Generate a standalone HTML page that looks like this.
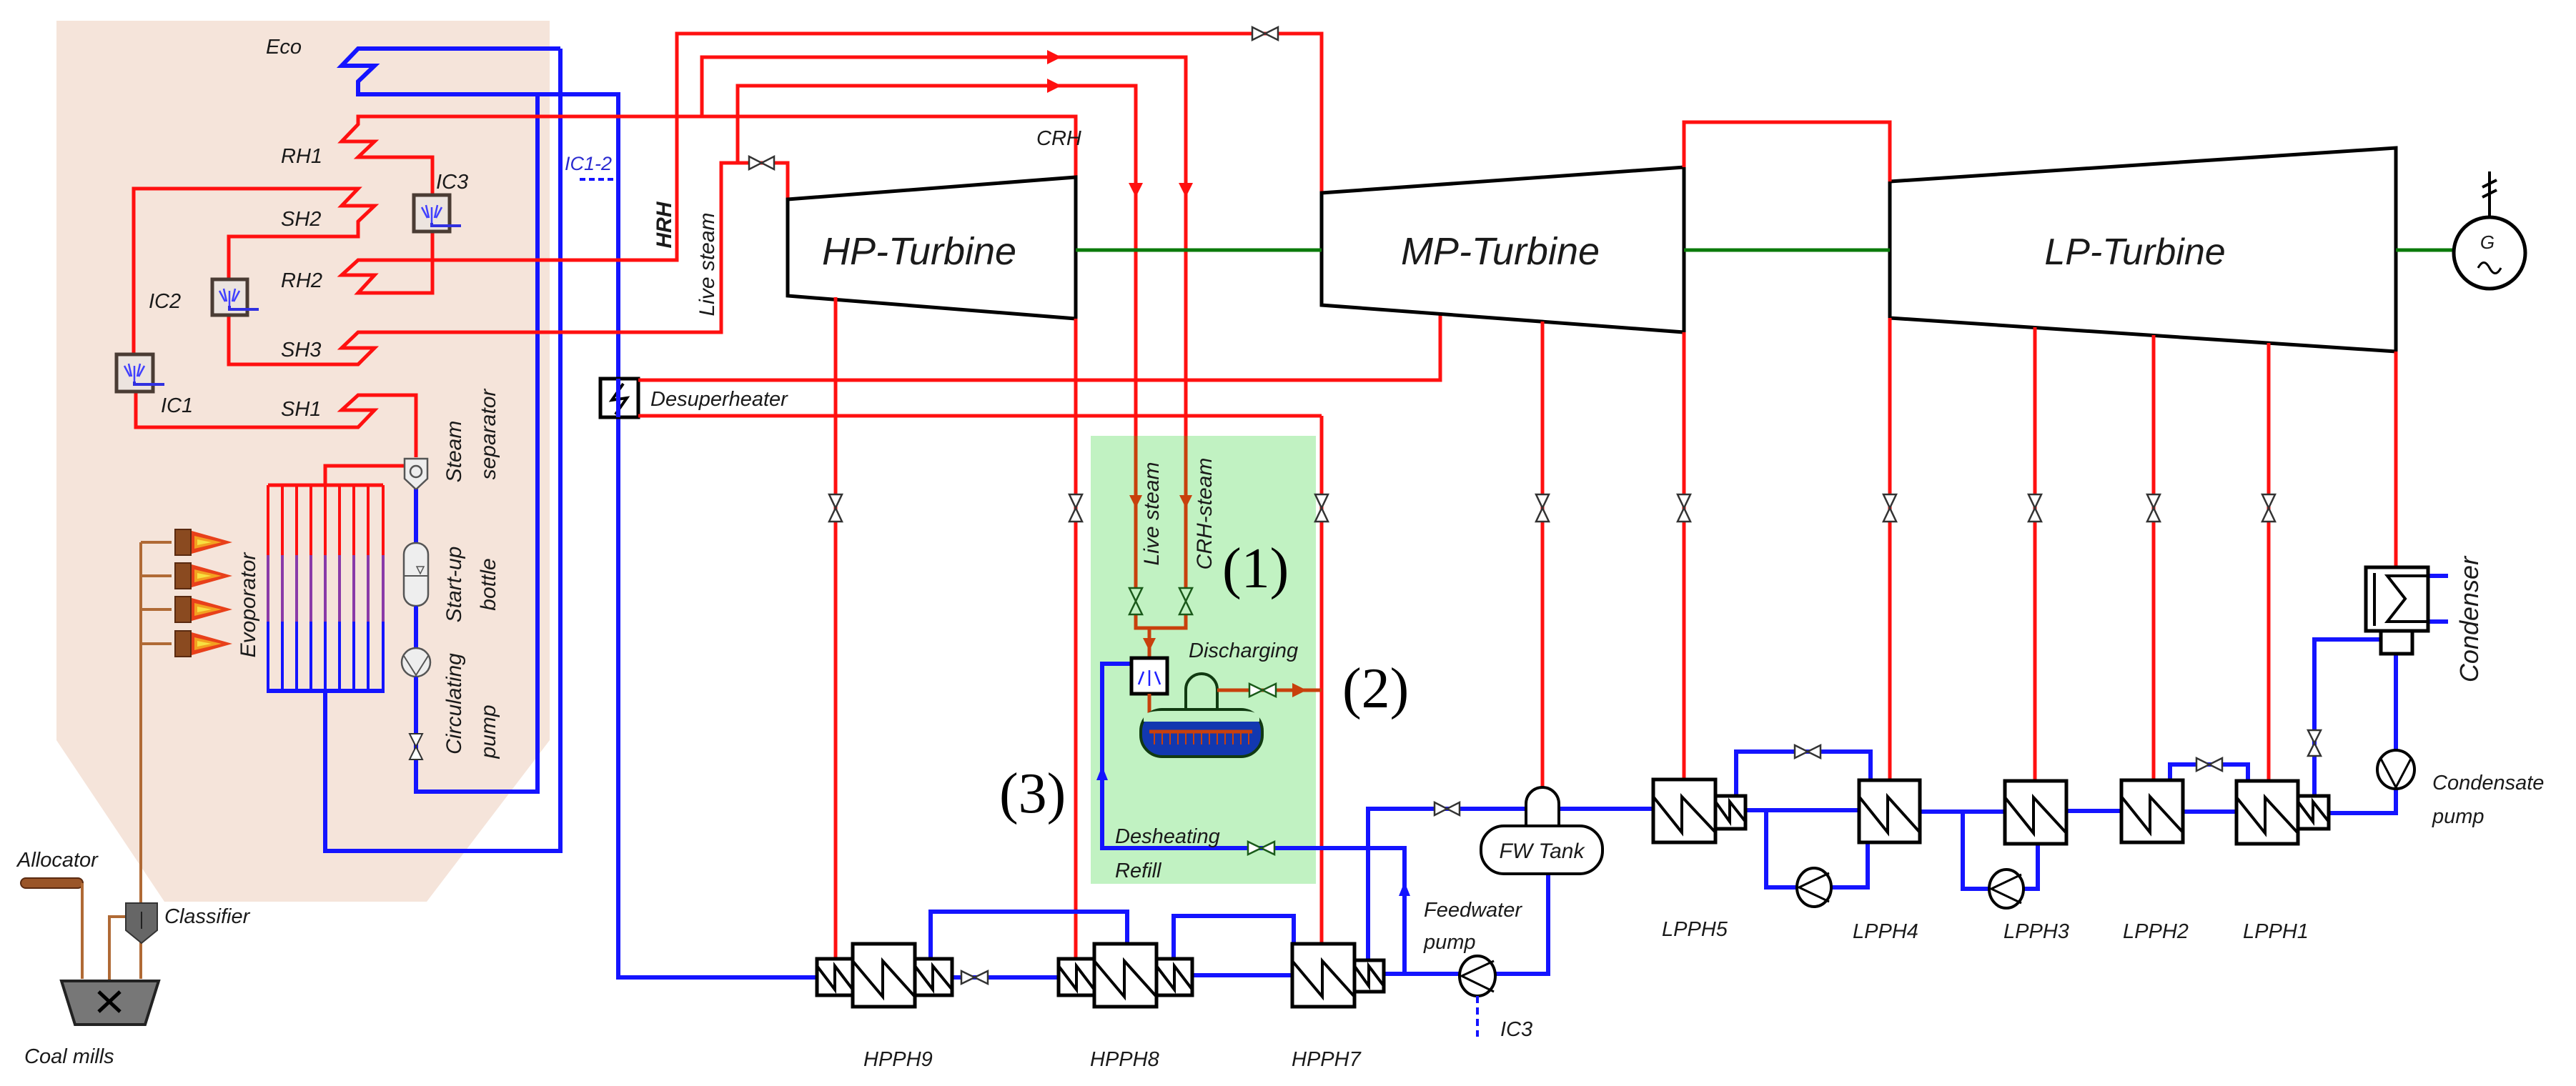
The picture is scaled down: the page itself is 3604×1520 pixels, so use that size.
<!DOCTYPE html>
<html><head><meta charset="utf-8"><style>
html,body{margin:0;padding:0;background:#fff;}
svg{display:block;}
text{font-family:"Liberation Sans",sans-serif;font-style:italic;fill:#1a1a1a;}
.r{stroke:#ff1010;stroke-width:5;fill:none;}
.b{stroke:#1414ff;stroke-width:6;fill:none;}
.k{stroke:#000;stroke-width:5;fill:#fff;}
.o{stroke:#c8400c;stroke-width:5;fill:none;}
.br{stroke:#b06a35;stroke-width:4;fill:none;}
.s{font-size:29px;}
.p{font-family:"Liberation Serif",serif;font-style:normal;font-size:80px;fill:#000;}
</style></head><body>
<svg width="3604" height="1520" viewBox="0 0 3604 1520" xmlns="http://www.w3.org/2000/svg">
<defs>
<marker id="ar" viewBox="0 0 10 10" refX="5" refY="5" markerWidth="4" markerHeight="4" orient="auto"><path d="M0,0L10,5L0,10z" fill="#ff1010"/></marker>
</defs>
<!-- boiler background -->
<polygon points="79,29 769,29 769,1036 597,1262 230,1262 79,1036" fill="#f5e4da"/>
<!-- green storage box -->
<rect x="1526" y="610" width="315" height="627" fill="#c1f2c2"/>

<!-- BLUE boiler lines -->
<polyline class="b" points="784,68 501,68 478,92 524,92 501,114 501,132 865,132 865,1368 1143,1368"/>
<polyline class="b" points="784,68 784,1191 455,1191 455,967"/>
<polyline class="b" points="752,132 752,1108 582,1108 582,683"/>
<line x1="811" y1="251" x2="865" y2="251" stroke="#1414ff" stroke-width="4" stroke-dasharray="8,5"/>

<!-- RED boiler lines -->
<polyline class="r" points="1505,248 1505,163 501,163 501,174 478,198 524,198 501,220 605,220 605,273"/>
<polyline class="r" points="605,324 605,410 501,410 524,385 478,385 501,364 947,364 947,47 1849,47 1849,270"/>
<polyline class="r" points="982,163 982,80 1659,80 1659,823"/>
<polyline class="r" points="1032,228 1032,120 1589,120 1589,823"/>
<polyline class="r" points="187,496 187,264 501,264 478,288 524,288 501,310 501,331 320,331 320,391"/>
<polyline class="r" points="320,441 320,510 501,510 524,487 478,487 501,465 1009,465 1009,228 1102,228 1102,279"/>
<polyline class="r" points="190,548 190,598 501,598 524,574 478,574 501,553 582,553 582,640"/>
<polyline class="r" points="582,652 455,652 455,679"/>
<!-- arrows on top lines -->
<path d="M1465,70 L1485,80 L1465,90z" fill="#ff1010"/>
<path d="M1465,110 L1485,120 L1465,130z" fill="#ff1010"/>
<path d="M1579,256 L1589,276 L1599,256z" fill="#ff1010"/>
<path d="M1649,256 L1659,276 L1669,256z" fill="#ff1010"/>
<!-- top valves -->
<g stroke="#333" stroke-width="2.5" fill="#fff">
<path d="M1752,38 L1788,56 L1788,38 L1752,56z"/>
<path d="M1048,219 L1083,237 L1083,219 L1048,237z"/>
</g>

<!-- evaporator tubes -->
<line x1="375" y1="679" x2="536" y2="679" class="r"/>
<g stroke-width="4">
<g stroke="#ff1010"><line x1="375" y1="679" x2="375" y2="777"/><line x1="395" y1="679" x2="395" y2="777"/><line x1="415" y1="679" x2="415" y2="777"/><line x1="435" y1="679" x2="435" y2="777"/><line x1="455" y1="679" x2="455" y2="777"/><line x1="475" y1="679" x2="475" y2="777"/><line x1="495" y1="679" x2="495" y2="777"/><line x1="515" y1="679" x2="515" y2="777"/><line x1="536" y1="679" x2="536" y2="777"/></g>
<g stroke="#8a3aa8"><line x1="375" y1="777" x2="375" y2="870"/><line x1="395" y1="777" x2="395" y2="870"/><line x1="415" y1="777" x2="415" y2="870"/><line x1="435" y1="777" x2="435" y2="870"/><line x1="455" y1="777" x2="455" y2="870"/><line x1="475" y1="777" x2="475" y2="870"/><line x1="495" y1="777" x2="495" y2="870"/><line x1="515" y1="777" x2="515" y2="870"/><line x1="536" y1="777" x2="536" y2="870"/></g>
<g stroke="#1414ff"><line x1="375" y1="870" x2="375" y2="967"/><line x1="395" y1="870" x2="395" y2="967"/><line x1="415" y1="870" x2="415" y2="967"/><line x1="435" y1="870" x2="435" y2="967"/><line x1="455" y1="870" x2="455" y2="967"/><line x1="475" y1="870" x2="475" y2="967"/><line x1="495" y1="870" x2="495" y2="967"/><line x1="515" y1="870" x2="515" y2="967"/><line x1="536" y1="870" x2="536" y2="967"/></g>
</g>
<line x1="373" y1="967" x2="538" y2="967" class="b"/>

<!-- IC boxes -->
<g>
<rect x="579" y="273" width="50" height="51" fill="#ece4df" stroke="#4a3c34" stroke-width="5"/>
<path d="M604,290 L604,312 M596,287 L600,305 M612,287 L608,305 M590,290 L598,305 M618,290 L610,305" stroke="#4040ff" stroke-width="2.5"/>
<polyline points="604,312 604,316 645,316" stroke="#3030e0" stroke-width="4" fill="none"/>
<rect x="297" y="391" width="49" height="50" fill="#ece4df" stroke="#4a3c34" stroke-width="5"/>
<path d="M321,407 L321,428 M313,404 L317,422 M329,404 L325,422 M307,407 L315,422 M335,407 L327,422" stroke="#4040ff" stroke-width="2.5"/>
<polyline points="321,428 321,433 362,433" stroke="#3030e0" stroke-width="4" fill="none"/>
<rect x="163" y="496" width="51" height="52" fill="#ece4df" stroke="#4a3c34" stroke-width="5"/>
<path d="M188,512 L188,534 M180,509 L184,527 M196,509 L192,527 M174,512 L182,527 M202,512 L194,527" stroke="#4040ff" stroke-width="2.5"/>
<polyline points="188,534 188,538 230,538" stroke="#3030e0" stroke-width="4" fill="none"/>
</g>

<!-- steam separator / bottle / circ pump -->
<path d="M566,642 L598,642 L598,670 L582,685 L566,670z" fill="#eee" stroke="#555" stroke-width="2.5"/>
<circle cx="582" cy="660" r="8" fill="none" stroke="#555" stroke-width="2.5"/>
<line x1="582" y1="685" x2="582" y2="760" class="b" style="stroke-width:3"/>
<rect x="565" y="760" width="34" height="88" rx="16" fill="#eee" stroke="#555" stroke-width="2.5"/>
<line x1="565" y1="806" x2="599" y2="806" stroke="#555" stroke-width="2"/>
<path d="M583,793 L593,793 L588,803z" fill="none" stroke="#555" stroke-width="1.5"/>
<line x1="582" y1="848" x2="582" y2="907" class="b" style="stroke-width:3"/>
<ellipse cx="582" cy="927" rx="20" ry="20" fill="#eee" stroke="#555" stroke-width="2.5"/>
<path d="M565,918 L582,945 L599,918" fill="none" stroke="#555" stroke-width="2"/>
<line x1="582" y1="947" x2="582" y2="1108" class="b" style="stroke-width:3"/>
<path d="M573,1027 L591,1027 L573,1063 L591,1063z" fill="#fff" stroke="#333" stroke-width="2"/>

<!-- coal / burners -->
<polyline class="br" points="197,1264 197,759"/>
<g class="br"><line x1="197" y1="759" x2="240" y2="759"/><line x1="197" y1="806" x2="240" y2="806"/><line x1="197" y1="853" x2="240" y2="853"/><line x1="197" y1="901" x2="240" y2="901"/></g>
<g id="burn">
</g>
<g>
<g transform="translate(0,759)"><rect x="245" y="-18" width="22" height="36" fill="#8a4a20" stroke="#5a2a10" stroke-width="2"/><path d="M268,-16 L325,0 L268,16z" fill="#e8401a"/><path d="M272,-9 L310,0 L272,9z" fill="#f3a020"/><path d="M276,-4 L296,0 L276,4z" fill="#f8e040"/></g>
<g transform="translate(0,806)"><rect x="245" y="-18" width="22" height="36" fill="#8a4a20" stroke="#5a2a10" stroke-width="2"/><path d="M268,-16 L325,0 L268,16z" fill="#e8401a"/><path d="M272,-9 L310,0 L272,9z" fill="#f3a020"/><path d="M276,-4 L296,0 L276,4z" fill="#f8e040"/></g>
<g transform="translate(0,853)"><rect x="245" y="-18" width="22" height="36" fill="#8a4a20" stroke="#5a2a10" stroke-width="2"/><path d="M268,-16 L325,0 L268,16z" fill="#e8401a"/><path d="M272,-9 L310,0 L272,9z" fill="#f3a020"/><path d="M276,-4 L296,0 L276,4z" fill="#f8e040"/></g>
<g transform="translate(0,901)"><rect x="245" y="-18" width="22" height="36" fill="#8a4a20" stroke="#5a2a10" stroke-width="2"/><path d="M268,-16 L325,0 L268,16z" fill="#e8401a"/><path d="M272,-9 L310,0 L272,9z" fill="#f3a020"/><path d="M276,-4 L296,0 L276,4z" fill="#f8e040"/></g>
</g>
<rect x="29" y="1229" width="87" height="14" rx="7" fill="#9a5528" stroke="#5a2a10" stroke-width="2"/>
<polyline class="br" points="115,1236 115,1370"/>
<polyline class="br" points="153,1373 153,1283 176,1283"/>
<line class="br" x1="197" y1="1317" x2="197" y2="1370"/>
<path d="M176,1264 L220,1264 L220,1302 L198,1320 L176,1302z" fill="#666" stroke="#333" stroke-width="2"/>
<line x1="198" y1="1276" x2="198" y2="1300" stroke="#222" stroke-width="2"/>
<path d="M86,1373 L222,1373 L203,1434 L105,1434z" fill="#777" stroke="#222" stroke-width="4"/>
<path d="M138,1388 L168,1416 M168,1388 L138,1416" stroke="#000" stroke-width="5"/>

<!-- desuperheater -->
<rect x="840" y="530" width="53" height="54" fill="#fff" stroke="#000" stroke-width="5"/>
<path d="M872,537 L856,560 L877,557 L861,580" fill="none" stroke="#000" stroke-width="4"/>
<line x1="865" y1="530" x2="865" y2="584" class="b"/>
<polyline class="r" points="893,532 2015,532 2015,439"/>
<polyline class="r" points="893,582 1849,582"/>

<!-- turbines -->
<polygon class="k" points="1102,279 1505,248 1505,446 1102,414"/>
<polygon class="k" points="1849,270 2356,234 2356,465 1849,427"/>
<polygon class="k" points="2644,254 3352,207 3352,492 2644,445"/>
<g stroke="#0a7a0a" stroke-width="5"><line x1="1505" y1="350" x2="1849" y2="350"/><line x1="2356" y1="350" x2="2644" y2="350"/><line x1="3352" y1="350" x2="3433" y2="350"/></g>
<text x="1286" y="370" font-size="54" text-anchor="middle">HP-Turbine</text>
<text x="2099" y="370" font-size="54" text-anchor="middle">MP-Turbine</text>
<text x="2987" y="370" font-size="52" text-anchor="middle">LP-Turbine</text>
<circle cx="3483" cy="354" r="50" fill="#fff" stroke="#000" stroke-width="5"/>
<text x="3480" y="348" font-size="26" text-anchor="middle">G</text>
<path d="M3467,375 Q3475,360 3483,375 T3499,375" fill="none" stroke="#000" stroke-width="3"/>
<line x1="3483" y1="304" x2="3483" y2="240" stroke="#000" stroke-width="4"/>
<path d="M3473,262 L3493,252 M3473,276 L3493,266" stroke="#000" stroke-width="4"/>

<!-- red extraction lines -->
<polyline class="r" points="2356,234 2356,171 2644,171 2644,254"/>
<line class="r" x1="1169" y1="416" x2="1169" y2="1342"/>
<line class="r" x1="1505" y1="446" x2="1505" y2="1342"/>
<line class="r" x1="1849" y1="582" x2="1849" y2="1321"/>
<line class="r" x1="2158" y1="450" x2="2158" y2="1103"/>
<line class="r" x1="2356" y1="465" x2="2356" y2="1091"/>
<line class="r" x1="2644" y1="445" x2="2644" y2="1092"/>
<line class="r" x1="2847" y1="458" x2="2847" y2="1093"/>
<line class="r" x1="3013" y1="469" x2="3013" y2="1092"/>
<line class="r" x1="3174" y1="480" x2="3174" y2="1093"/>
<line class="r" x1="3352" y1="492" x2="3352" y2="794"/>
<g stroke="#333" stroke-width="2.5" fill="#fff">
<path d="M1160,692 L1178,692 L1160,730 L1178,730z"/>
<path d="M1496,692 L1514,692 L1496,730 L1514,730z"/>
<path d="M1840,692 L1858,692 L1840,730 L1858,730z"/>
<path d="M2149,692 L2167,692 L2149,730 L2167,730z"/>
<path d="M2347,692 L2365,692 L2347,730 L2365,730z"/>
<path d="M2635,692 L2653,692 L2635,730 L2653,730z"/>
<path d="M2838,692 L2856,692 L2838,730 L2856,730z"/>
<path d="M3004,692 L3022,692 L3004,730 L3022,730z"/>
<path d="M3165,692 L3183,692 L3165,730 L3183,730z"/>
</g>

<!-- storage system -->
<g class="o">
<line x1="1589" y1="610" x2="1589" y2="823"/><line x1="1659" y1="610" x2="1659" y2="823"/>
<polyline points="1589,860 1589,879 1659,879 1659,860"/>
<line x1="1608" y1="879" x2="1608" y2="921"/>
</g>
<path d="M1580,693 L1589,711 L1598,693z" fill="#c8400c"/>
<path d="M1650,693 L1659,711 L1668,693z" fill="#c8400c"/>
<path d="M1599,893 L1608,911 L1617,893z" fill="#c8400c"/>
<g stroke="#1a5a1a" stroke-width="2.5" fill="none">
<path d="M1580,823 L1598,823 L1580,860 L1598,860z"/>
<path d="M1650,823 L1668,823 L1650,860 L1668,860z"/>
</g>
<polyline class="b" points="1606,929 1542,929 1542,1187 1965,1187 1965,1363"/>
<path d="M1534,1092 L1542,1072 L1550,1092z" fill="#1414ff"/>
<path d="M1957,1254 L1965,1234 L1973,1254z" fill="#1414ff"/>
<path d="M1746,1178 L1783,1196 L1783,1178 L1746,1196z" fill="#fff" stroke="#1a5a1a" stroke-width="2.5"/>
<rect x="1583" y="921" width="50" height="50" fill="#fff" stroke="#000" stroke-width="5"/>
<path d="M1608,938 L1608,960 M1600,940 L1593,958 M1616,940 L1623,958" stroke="#2020ff" stroke-width="2.5"/>
<line x1="1608" y1="971" x2="1608" y2="1024" class="o"/>
<path d="M1659,993 L1659,965 A22,22 0 0 1 1703,965 L1703,993" fill="#c1f2c2" stroke="#113a11" stroke-width="4"/>
<rect x="1596" y="993" width="170" height="66" rx="30" fill="#1238b0" stroke="#113a11" stroke-width="4"/>
<path d="M1600,1010 L1600,1005 Q1600,995 1626,995 L1736,995 Q1762,995 1762,1005 L1762,1010z" fill="#c1f2c2"/>
<line x1="1608" y1="1024" x2="1752" y2="1024" class="o"/>
<path d="M1615,1024 v18 M1626,1024 v18 M1637,1024 v18 M1648,1024 v18 M1659,1024 v18 M1670,1024 v18 M1681,1024 v18 M1692,1024 v18 M1703,1024 v18 M1714,1024 v18 M1725,1024 v18 M1736,1024 v18 M1747,1024 v18" stroke="#c8400c" stroke-width="2"/>
<line class="o" x1="1703" y1="966" x2="1849" y2="966"/>
<path d="M1748,957 L1785,975 L1785,957 L1748,975z" fill="#fff" stroke="#1a5a1a" stroke-width="2.5"/>
<path d="M1808,956 L1828,966 L1808,976z" fill="#c8400c"/>

<!-- feedwater / HP heaters -->
<polyline class="b" points="1332,1368 1481,1368"/>
<polyline class="b" points="1668,1365 1808,1365"/>
<polyline class="b" points="1936,1363 2042,1363"/>
<polyline class="b" points="2092,1363 2166,1363 2166,1223"/>
<polyline class="b" points="1302,1344 1302,1276 1577,1276 1577,1321"/>
<polyline class="b" points="1642,1342 1642,1282 1810,1282 1810,1321"/>
<polyline class="b" points="1914,1344 1914,1132 2135,1132"/>
<polyline class="b" points="2181,1132 2313,1132"/>
<path d="M1345,1359 L1382,1377 L1382,1359 L1345,1377z" fill="#fff" stroke="#333" stroke-width="2.5"/>
<path d="M2007,1123 L2042,1141 L2042,1123 L2007,1141z" fill="#fff" stroke="#333" stroke-width="2.5"/>
<g fill="#fff" stroke="#000" stroke-width="5">
<!-- HPPH9 -->
<rect x="1143" y="1342" width="50" height="51"/><rect x="1193" y="1321" width="87" height="88"/><rect x="1280" y="1342" width="52" height="51"/>
<!-- HPPH8 -->
<rect x="1481" y="1342" width="50" height="51"/><rect x="1531" y="1321" width="87" height="88"/><rect x="1618" y="1342" width="50" height="51"/>
<!-- HPPH7 -->
<rect x="1808" y="1321" width="87" height="88"/><rect x="1895" y="1344" width="41" height="44"/>
</g>
<g fill="none" stroke="#000" stroke-width="4">
<polyline points="1143,1352 1168,1385 1168,1352 1193,1385"/>
<polyline points="1193,1345 1235,1395 1235,1345 1280,1395"/>
<polyline points="1280,1352 1305,1385 1305,1352 1332,1385"/>
<polyline points="1481,1352 1506,1385 1506,1352 1531,1385"/>
<polyline points="1531,1345 1573,1395 1573,1345 1618,1395"/>
<polyline points="1618,1352 1643,1385 1643,1352 1668,1385"/>
<polyline points="1808,1345 1850,1395 1850,1345 1895,1395"/>
<polyline points="1895,1352 1915,1380 1915,1352 1936,1380"/>
</g>
<!-- FW tank -->
<path d="M2135,1156 L2135,1125 A23,23 0 0 1 2181,1125 L2181,1156" fill="#fff" stroke="#000" stroke-width="4"/>
<rect x="2072" y="1156" width="170" height="67" rx="32" fill="#fff" stroke="#000" stroke-width="4"/>
<text x="2157" y="1201" font-size="30" text-anchor="middle">FW Tank</text>
<ellipse cx="2067" cy="1366" rx="25" ry="28" fill="#fff" stroke="#000" stroke-width="4"/>
<path d="M2090,1345 L2045,1366 L2090,1388" fill="none" stroke="#000" stroke-width="3"/>
<line x1="2067" y1="1394" x2="2067" y2="1451" stroke="#1414ff" stroke-width="4" stroke-dasharray="10,6"/>

<!-- LP heaters -->
<polyline class="b" points="2442,1134 2601,1134"/>
<polyline class="b" points="2686,1136 2805,1136"/>
<polyline class="b" points="2891,1135 2968,1135"/>
<polyline class="b" points="3054,1136 3129,1136"/>
<polyline class="b" points="3258,1138 3352,1138 3352,1104"/>
<polyline class="b" points="3352,1050 3352,915"/>
<polyline class="b" points="3331,895 3238,895 3238,1114"/>
<polyline class="b" points="2429,1114 2429,1052 2617,1052 2617,1092"/>
<polyline class="b" points="3036,1092 3036,1070 3145,1070 3145,1093"/>
<polyline class="b" points="2471,1134 2471,1242 2513,1242"/>
<polyline class="b" points="2563,1242 2613,1242 2613,1179"/>
<polyline class="b" points="2746,1136 2746,1244 2782,1244"/>
<polyline class="b" points="2832,1244 2851,1244 2851,1181"/>
<polyline class="b" points="3397,806 3425,806"/>
<polyline class="b" points="3397,870 3425,870"/>
<g fill="#fff" stroke="#333" stroke-width="2.5">
<path d="M2511,1043 L2547,1061 L2547,1043 L2511,1061z"/>
<path d="M3073,1061 L3109,1079 L3109,1061 L3073,1079z"/>
<path d="M3229,1022 L3247,1022 L3229,1058 L3247,1058z"/>
</g>
<g fill="#fff" stroke="#000" stroke-width="5">
<rect x="2313" y="1091" width="87" height="88"/><rect x="2400" y="1114" width="42" height="46"/>
<rect x="2601" y="1092" width="85" height="87"/>
<rect x="2805" y="1093" width="86" height="88"/>
<rect x="2968" y="1092" width="86" height="87"/>
<rect x="3129" y="1093" width="86" height="88"/><rect x="3215" y="1114" width="43" height="46"/>
<rect x="3310" y="794" width="87" height="89"/><rect x="3331" y="883" width="44" height="32"/>
</g>
<g fill="none" stroke="#000" stroke-width="4">
<polyline points="2313,1115 2353,1165 2353,1115 2400,1165"/>
<polyline points="2400,1122 2420,1150 2420,1122 2442,1150"/>
<polyline points="2601,1115 2641,1165 2641,1115 2686,1165"/>
<polyline points="2805,1116 2845,1166 2845,1116 2891,1166"/>
<polyline points="2968,1115 3008,1165 3008,1115 3054,1165"/>
<polyline points="3129,1116 3169,1166 3169,1116 3215,1166"/>
<polyline points="3215,1122 3236,1150 3236,1122 3258,1150"/>
<polyline points="3397,806 3340,806 3365,838 3340,870 3397,870"/>
<line x1="3322" y1="802" x2="3322" y2="876"/>
</g>
<g fill="#fff" stroke="#000" stroke-width="4">
<ellipse cx="2538" cy="1242" rx="24" ry="27"/>
<ellipse cx="2807" cy="1244" rx="24" ry="27"/>
<ellipse cx="3352" cy="1077" rx="26" ry="27"/>
</g>
<g fill="none" stroke="#000" stroke-width="3">
<path d="M2559,1222 L2517,1242 L2559,1262"/>
<path d="M2828,1224 L2786,1244 L2828,1264"/>
<path d="M3330,1060 L3352,1102 L3374,1060"/>
</g>

<!-- labels -->
<g class="s">
<text x="372" y="75">Eco</text>
<text x="393" y="228">RH1</text>
<text x="610" y="264">IC3</text>
<text x="393" y="316">SH2</text>
<text x="393" y="402">RH2</text>
<text x="208" y="431">IC2</text>
<text x="393" y="499">SH3</text>
<text x="225" y="577">IC1</text>
<text x="393" y="582">SH1</text>
<text x="24" y="1213">Allocator</text>
<text x="230" y="1292">Classifier</text>
<text x="34" y="1488">Coal mills</text>
<text x="1450" y="203">CRH</text>
<text x="790" y="238" style="fill:#2a2ad0;font-size:27px">IC1-2</text>
<text x="910" y="568">Desuperheater</text>
<text x="1663" y="920">Discharging</text>
<text x="1560" y="1180">Desheating</text>
<text x="1560" y="1228">Refill</text>
<text x="1992" y="1283">Feedwater</text>
<text x="1992" y="1328">pump</text>
<text x="2099" y="1450">IC3</text>
<text x="1208" y="1492">HPPH9</text>
<text x="1525" y="1492">HPPH8</text>
<text x="1807" y="1492">HPPH7</text>
<text x="2325" y="1310">LPPH5</text>
<text x="2592" y="1313">LPPH4</text>
<text x="2803" y="1313">LPPH3</text>
<text x="2970" y="1313">LPPH2</text>
<text x="3138" y="1313">LPPH1</text>
<text x="3403" y="1105">Condensate</text>
<text x="3403" y="1152">pump</text>
</g>
<g font-size="30">
<text transform="translate(939,315) rotate(-90)" text-anchor="middle" style="font-weight:bold">HRH</text>
<text transform="translate(999,370) rotate(-90)" text-anchor="middle">Live steam</text>
<text transform="translate(1621,719) rotate(-90)" text-anchor="middle">Live steam</text>
<text transform="translate(1695,719) rotate(-90)" text-anchor="middle">CRH-steam</text>
<text transform="translate(645,632) rotate(-90)" text-anchor="middle">Steam</text>
<text transform="translate(693,608) rotate(-90)" text-anchor="middle">separator</text>
<text transform="translate(645,818) rotate(-90)" text-anchor="middle">Start-up</text>
<text transform="translate(693,818) rotate(-90)" text-anchor="middle">bottle</text>
<text transform="translate(645,985) rotate(-90)" text-anchor="middle">Circulating</text>
<text transform="translate(693,1024) rotate(-90)" text-anchor="middle">pump</text>
<text transform="translate(357,847) rotate(-90)" text-anchor="middle">Evoporator</text>
<text transform="translate(3467,867) rotate(-90)" text-anchor="middle" font-size="36">Condenser</text>
</g>
<text class="p" x="1710" y="822">(1)</text>
<text class="p" x="1878" y="990">(2)</text>
<text class="p" x="1398" y="1137">(3)</text>
</svg>
</body></html>
